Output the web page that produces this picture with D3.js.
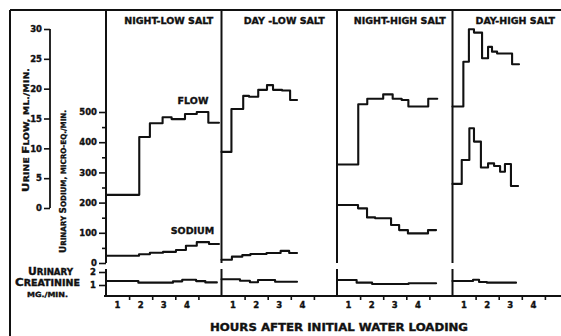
<!DOCTYPE html>
<html>
<head>
<meta charset="utf-8">
<script src="https://cdn.jsdelivr.net/npm/d3@7"></script>
<style>
  html, body { margin: 0; padding: 0; background: #fff; }
  svg { display: block; }
  text { font-family: "DejaVu Sans", sans-serif; font-weight: bold; fill: #111; stroke: #111; stroke-width: 0.35px; }
</style>
</head>
<body>
<svg id="chart" width="561" height="336"></svg>
<script>
// ---- data -------------------------------------------------------------
const panelTitles = ["NIGHT-LOW SALT", "DAY -LOW SALT", "NIGHT-HIGH SALT", "DAY-HIGH SALT"];
const hourLabels = ["1", "2", "3", "4"];
const hourTicks = [1, 2, 3, 4];
const flowTicks = [0, 5, 10, 15, 20, 25, 30];
const sodiumTicks = [0, 100, 200, 300, 400, 500];
const sodiumMinorTicks = [50, 150, 250, 350, 450];
const creatinineTicks = [1, 2];

// Each series: period boundaries (hours after loading) and the value over each period.
// Urine flow, ml./min.
const flowNightLowHours  = [0, 1.44, 1.90, 2.45, 2.84, 3.42, 3.93, 4.43, 4.89];
const flowNightLow       = [2.2, 11.9, 14.2, 15.2, 14.9, 15.75, 16.1, 14.3];
const flowDayLowHours    = [0, 0.43, 0.94, 1.19, 1.59, 1.97, 2.23, 2.62, 2.97, 3.27];
const flowDayLow         = [9.4, 16.6, 18.8, 18.65, 19.8, 20.6, 19.8, 19.7, 18.1];
const flowNightHighHours = [0, 0.92, 1.31, 2.00, 2.41, 2.80, 3.09, 3.95, 4.34];
const flowNightHigh      = [7.3, 17.4, 18.3, 19.05, 18.3, 18.1, 17.0, 18.3];
const flowDayHighHours   = [0, 0.47, 0.71, 0.93, 1.28, 1.54, 1.71, 1.93, 2.58, 2.88];
const flowDayHigh        = [17.0, 24.5, 29.95, 29.4, 25.1, 27.0, 26.2, 25.9, 24.1];

// Urinary sodium, micro-eq./min.
const sodiumNightLowHours  = [0, 1.43, 1.90, 2.47, 3.03, 3.46, 3.93, 4.46, 4.89];
const sodiumNightLow       = [24, 29, 34, 37, 43, 57, 69, 63];
const sodiumDayLowHours    = [0, 0.45, 0.90, 1.25, 1.95, 2.56, 2.93, 3.27];
const sodiumDayLow         = [11, 21, 26, 30, 33, 40, 33];
const sodiumNightHighHours = [0, 0.91, 1.30, 1.65, 2.34, 2.69, 3.07, 3.94, 4.29];
const sodiumNightHigh      = [192, 181, 151, 148, 126, 109, 98, 109];
const sodiumDayHighHours   = [0, 0.40, 0.73, 0.93, 1.23, 1.54, 1.80, 2.06, 2.27, 2.53, 2.84];
const sodiumDayHigh        = [262, 341, 446, 402, 316, 330, 321, 302, 328, 255];

// Urinary creatinine, mg./min.
const creatNightLowHours  = [0, 1.40, 2.90, 3.30, 3.90, 4.30, 4.80];
const creatNightLow       = [1.31, 1.18, 1.28, 1.40, 1.30, 1.20];
const creatDayLowHours    = [0, 0.80, 1.23, 1.58, 2.32, 3.27];
const creatDayLow         = [1.44, 1.33, 1.21, 1.38, 1.25];
const creatNightHighHours = [0, 0.85, 1.52, 3.10, 4.29];
const creatNightHigh      = [1.38, 1.18, 1.08, 1.13];
const creatDayHighHours   = [0, 0.89, 1.15, 1.49, 2.75];
const creatDayHigh        = [1.31, 1.40, 1.23, 1.18];

const flowSeries = [
  [flowNightLowHours, flowNightLow], [flowDayLowHours, flowDayLow],
  [flowNightHighHours, flowNightHigh], [flowDayHighHours, flowDayHigh]
];
const sodiumSeries = [
  [sodiumNightLowHours, sodiumNightLow], [sodiumDayLowHours, sodiumDayLow],
  [sodiumNightHighHours, sodiumNightHigh], [sodiumDayHighHours, sodiumDayHigh]
];
const creatSeries = [
  [creatNightLowHours, creatNightLow], [creatDayLowHours, creatDayLow],
  [creatNightHighHours, creatNightHigh], [creatDayHighHours, creatDayHigh]
];

// ---- layout -----------------------------------------------------------
const svg = d3.select("#chart");
const ink = "#111";
const panelWidth = 115.5;
const panelLeft = d3.scaleLinear().domain([0, 4]).range([106, 106 + 4 * panelWidth]);
const hourScale = i => d3.scaleLinear().domain([0, 5]).range([panelLeft(i), panelLeft(i) + panelWidth]);

const yFlow = d3.scaleLinear().domain([0, 30]).range([208, 29]);
const ySodium = d3.scaleLinear().domain([0, 500]).range([263, 112]);
const yCreat = d3.scaleLinear().domain([0, 2]).range([298, 272]);
const axisY = 296;

// outer frame (top and left rules)
svg.append("line").attr("x1", 10).attr("x2", 561).attr("y1", 10).attr("y2", 10)
  .attr("stroke", ink).attr("stroke-width", 2);
svg.append("line").attr("x1", 10).attr("x2", 10).attr("y1", 10).attr("y2", 336)
  .attr("stroke", ink).attr("stroke-width", 2);

// panel rules: upper (flow + sodium) part and lower (creatinine) part
for (let i = 0; i < 4; i++) {
  const x = panelLeft(i);
  svg.append("line").attr("x1", x).attr("x2", x).attr("y1", 10).attr("y2", ySodium(0))
    .attr("stroke", ink).attr("stroke-width", 2);
  svg.append("line").attr("x1", x).attr("x2", x).attr("y1", 269).attr("y2", axisY + 1)
    .attr("stroke", ink).attr("stroke-width", 2);
}

// bottom time axis
svg.append("line").attr("x1", 104).attr("x2", 561).attr("y1", axisY).attr("y2", axisY)
  .attr("stroke", ink).attr("stroke-width", 2);

function styleAxis(g, fontSize) {
  g.select(".domain").remove();
  g.selectAll(".tick line").attr("stroke", ink).attr("stroke-width", 1.6);
  g.selectAll(".tick text").attr("font-family", "DejaVu Sans").attr("font-weight", "bold")
    .attr("font-size", fontSize).attr("fill", ink);
}

for (let i = 0; i < 4; i++) {
  const x = hourScale(i);
  svg.append("g").attr("transform", `translate(0,${axisY})`)
    .call(d3.axisBottom(x).tickValues(hourTicks).tickFormat("").tickSize(4).tickSizeOuter(0))
    .call(g => styleAxis(g, 8));
  svg.append("g").selectAll("text").data(hourLabels).join("text")
    .attr("x", (d, k) => x(hourTicks[k] - 0.5))
    .attr("y", 308)
    .attr("text-anchor", "middle")
    .attr("font-size", 8.5)
    .text(d => d);
}

// flow axis
svg.append("g").attr("transform", "translate(50,0)")
  .call(d3.axisLeft(yFlow).tickValues(flowTicks).tickSize(6).tickPadding(2).tickSizeOuter(0))
  .call(g => styleAxis(g, 8.5));
svg.append("line").attr("x1", 50).attr("x2", 50).attr("y1", yFlow(30)).attr("y2", yFlow(0))
  .attr("stroke", ink).attr("stroke-width", 1.8);

// sodium axis
svg.append("g").attr("transform", `translate(${panelLeft(0)},0)`)
  .call(d3.axisLeft(ySodium).tickValues(sodiumTicks).tickSize(7).tickPadding(2))
  .call(g => styleAxis(g, 8.5));
svg.append("g").attr("transform", `translate(${panelLeft(0)},0)`)
  .call(d3.axisLeft(ySodium).tickValues(sodiumMinorTicks).tickSize(4).tickFormat(""))
  .call(g => styleAxis(g, 8.5));

// creatinine axis
svg.append("g").attr("transform", `translate(${panelLeft(0)},0)`)
  .call(d3.axisLeft(yCreat).tickValues(creatinineTicks).tickFormat(d3.format("d")).tickSize(7).tickPadding(3))
  .call(g => styleAxis(g, 8.5));

// step traces
function stepPath(hours, values, x, y) {
  const pts = values.map((v, k) => [hours[k], v]);
  pts.push([hours[hours.length - 1], values[values.length - 1]]);
  return d3.line().x(d => x(d[0])).y(d => y(d[1])).curve(d3.curveStepAfter)(pts);
}
const traces = svg.append("g").attr("fill", "none").attr("stroke", ink)
  .attr("stroke-width", 2.1).attr("stroke-linejoin", "round").attr("stroke-linecap", "round");
for (let i = 0; i < 4; i++) {
  const x = hourScale(i);
  traces.append("path").attr("d", stepPath(flowSeries[i][0], flowSeries[i][1], x, yFlow));
  traces.append("path").attr("d", stepPath(sodiumSeries[i][0], sodiumSeries[i][1], x, ySodium));
  traces.append("path").attr("d", stepPath(creatSeries[i][0], creatSeries[i][1], x, yCreat));
}

// panel headings
svg.append("g").selectAll("text").data(panelTitles).join("text")
  .attr("x", (d, i) => panelLeft(i) + panelWidth / 2 + 5)
  .attr("y", 24)
  .attr("text-anchor", "middle")
  .attr("font-size", 9.5)
  .text(d => d);

// trace labels
svg.append("text").attr("x", 193).attr("y", 104).attr("text-anchor", "middle")
  .attr("font-size", 9.5).text("FLOW");
svg.append("text").attr("x", 192.5).attr("y", 234).attr("text-anchor", "middle")
  .attr("font-size", 9.5).text("SODIUM");

// small-caps lettering: capitals at full size, lower-case drawn as smaller capitals
function smallCaps(sel, str, big, small) {
  const runs = [];
  for (const ch of str) {
    const isBig = ch !== ch.toLowerCase();
    const last = runs[runs.length - 1];
    if (last && last.big === isBig) last.s += ch;
    else runs.push({ big: isBig, s: ch });
  }
  sel.selectAll("tspan").data(runs).join("tspan")
    .attr("font-size", r => r.big ? big : small)
    .text(r => r.s.toUpperCase());
  return sel;
}

// axis titles
smallCaps(svg.append("text").attr("transform", "translate(29,130) rotate(-90)")
  .attr("text-anchor", "middle")
  .attr("textLength", 124).attr("lengthAdjust", "spacingAndGlyphs"),
  "Urine Flow, ml./min.", 9.5, 7.8);
smallCaps(svg.append("text").attr("transform", "translate(66,181.5) rotate(-90)")
  .attr("text-anchor", "middle")
  .attr("textLength", 143).attr("lengthAdjust", "spacingAndGlyphs"),
  "Urinary Sodium, micro-eq./min.", 9, 7.3);

smallCaps(svg.append("text").attr("x", 50.5).attr("y", 275).attr("text-anchor", "middle")
  .attr("textLength", 45).attr("lengthAdjust", "spacingAndGlyphs"),
  "Urinary", 10, 8);
smallCaps(svg.append("text").attr("x", 47.5).attr("y", 286).attr("text-anchor", "middle")
  .attr("textLength", 65).attr("lengthAdjust", "spacingAndGlyphs"),
  "Creatinine", 10, 8);
smallCaps(svg.append("text").attr("x", 47.5).attr("y", 297).attr("text-anchor", "middle")
  .attr("textLength", 41).attr("lengthAdjust", "spacingAndGlyphs"),
  "mg./min.", 10, 7);

svg.append("text").attr("x", 339).attr("y", 331).attr("text-anchor", "middle")
  .attr("font-size", 10).attr("textLength", 258).attr("lengthAdjust", "spacingAndGlyphs")
  .text("HOURS AFTER INITIAL WATER LOADING");
</script>
</body>
</html>
